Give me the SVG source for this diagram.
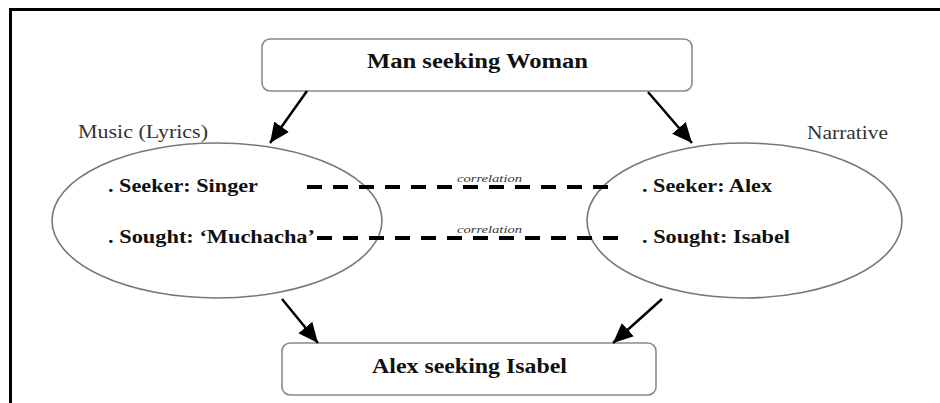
<svg xmlns="http://www.w3.org/2000/svg" width="940" height="403" viewBox="0 0 940 403">
  <style>
    .box { fill: #fff; stroke: #8a8a8a; stroke-width: 1.6; }
    .oval { fill: none; stroke: #777; stroke-width: 1.6; }
    .title { font-family: "Liberation Serif", "Times New Roman", Times, serif; font-weight: bold; font-size: 20px; fill: #111; }
    .item { font-family: "Liberation Serif", "Times New Roman", Times, serif; font-weight: bold; font-size: 19px; fill: #111; }
    .side { font-family: "Liberation Serif", "Times New Roman", Times, serif; font-size: 19px; fill: #333; }
    .corr { font-family: "Liberation Serif", "Times New Roman", Times, serif; font-style: italic; font-size: 11px; fill: #333; }
    .arrow { stroke: #000; stroke-width: 2.5; fill: none; marker-end: url(#head); }
    .dash { stroke: #000; stroke-width: 4; stroke-dasharray: 15 11; fill: none; }
  </style>
  <defs>
    <marker id="head" markerUnits="userSpaceOnUse" markerWidth="22" markerHeight="20" refX="20" refY="9" orient="auto">
      <path d="M0,0 L20,9 L0,18 z" fill="#000"/>
    </marker>
  </defs>

  <rect width="940" height="403" fill="#fff"/>
  <!-- outer frame, open on the right and bottom -->
  <rect x="10.5" y="9.5" width="1000" height="500" fill="none" stroke="#000" stroke-width="3"/>

  <g id="man-seeking-woman">
    <rect class="box" x="262" y="39" width="430" height="52" rx="8"/>
    <text class="title" x="367" y="68" textLength="221" lengthAdjust="spacingAndGlyphs">Man seeking Woman</text>
  </g>

  <g id="music">
    <text class="side" x="78" y="138" textLength="130" lengthAdjust="spacingAndGlyphs">Music (Lyrics)</text>
    <ellipse class="oval" cx="217" cy="220.5" rx="165" ry="77.5"/>
    <text class="item" x="108" y="192" textLength="150" lengthAdjust="spacingAndGlyphs">. Seeker: Singer</text>
    <text class="item" x="108" y="243" textLength="207" lengthAdjust="spacingAndGlyphs">. Sought: ‘Muchacha’</text>
  </g>

  <g id="narrative">
    <text class="side" x="807" y="139" textLength="81" lengthAdjust="spacingAndGlyphs">Narrative</text>
    <ellipse class="oval" cx="744.5" cy="220.5" rx="157.5" ry="77.5"/>
    <text class="item" x="642" y="192" textLength="130" lengthAdjust="spacingAndGlyphs">. Seeker: Alex</text>
    <text class="item" x="642" y="243" textLength="148" lengthAdjust="spacingAndGlyphs">. Sought: Isabel</text>
  </g>

  <g id="alex-seeking-isabel">
    <rect class="box" x="282" y="343" width="374" height="52" rx="8"/>
    <text class="title" x="372" y="373" textLength="195" lengthAdjust="spacingAndGlyphs">Alex seeking Isabel</text>
  </g>

  <g id="connectors">
    <line class="arrow" x1="307" y1="91" x2="270" y2="143"/>
    <line class="arrow" x1="648" y1="92" x2="692" y2="143"/>
    <line class="arrow" x1="282" y1="299" x2="318" y2="343"/>
    <line class="arrow" x1="662" y1="299" x2="613" y2="343"/>

    <line class="dash" x1="307" y1="187" x2="617" y2="187"/>
    <line class="dash" x1="317" y1="238" x2="625" y2="238"/>
    <text class="corr" x="457" y="182" textLength="65" lengthAdjust="spacingAndGlyphs">correlation</text>
    <text class="corr" x="457" y="233" textLength="65" lengthAdjust="spacingAndGlyphs">correlation</text>
  </g>
</svg>
